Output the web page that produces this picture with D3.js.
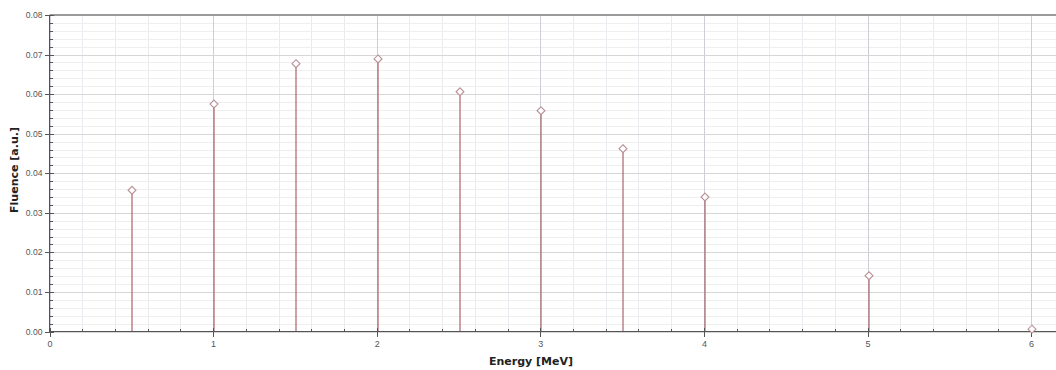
<!DOCTYPE html>
<html>
<head>
<meta charset="utf-8">
<script src="https://cdn.jsdelivr.net/npm/d3@7"></script>
<style>
  html, body { margin: 0; padding: 0; background: #fff; }
  svg { display: block; }
</style>
</head>
<body>
<svg id="chart" width="1056" height="370"></svg>
<script>
// Photon fluence spectrum: one stem per energy line
const energies = [0.5, 1.0, 1.5, 2.0, 2.5, 3.0, 3.5, 4.0, 5.0, 6.0];
const fluence  = [0.0357, 0.0575, 0.0677, 0.0689, 0.0606, 0.0558, 0.0462, 0.0340, 0.0141, 0.0006];
const xTickValues = [0, 1, 2, 3, 4, 5, 6];
const yTickValues = [0, 0.01, 0.02, 0.03, 0.04, 0.05, 0.06, 0.07, 0.08];

const svg = d3.select("#chart");
const plotLeft = 49.5, plotTop = 15, plotBottom = 331.5, plotRight = 1056;

const x = d3.scaleLinear().domain([0, 6.152]).range([plotLeft, plotRight]);
const y = d3.scaleLinear().domain([0, 0.08]).range([plotBottom, plotTop]);

const xMinor = d3.range(0, 6.15, 0.2).map(v => +v.toFixed(2));
const yMinor = d3.range(0, 0.0801, 0.002).map(v => +v.toFixed(4));
const px = v => Math.round(v) + 0.5;

const grid = svg.append("g").attr("shape-rendering", "crispEdges");
// minor grid
grid.selectAll("line.xm").data(xMinor).join("line")
  .attr("x1", d => px(x(d))).attr("x2", d => px(x(d)))
  .attr("y1", plotTop).attr("y2", plotBottom)
  .attr("stroke", "#ebe9ef").attr("stroke-width", 1);
grid.selectAll("line.ym").data(yMinor).join("line")
  .attr("x1", plotLeft).attr("x2", plotRight)
  .attr("y1", d => px(y(d))).attr("y2", d => px(y(d)))
  .attr("stroke", "#eeeeee").attr("stroke-width", 1);
// major grid
grid.selectAll("line.xM").data(xTickValues).join("line")
  .attr("x1", d => px(x(d))).attr("x2", d => px(x(d)))
  .attr("y1", plotTop).attr("y2", plotBottom)
  .attr("stroke", "#cdcdd6").attr("stroke-width", 1);
grid.selectAll("line.yM").data(yTickValues).join("line")
  .attr("x1", plotLeft).attr("x2", plotRight)
  .attr("y1", d => px(y(d))).attr("y2", d => px(y(d)))
  .attr("stroke", "#d6d6d6").attr("stroke-width", 1);

// top frame line
svg.append("line")
  .attr("x1", plotLeft).attr("x2", plotRight).attr("y1", plotTop).attr("y2", plotTop)
  .attr("stroke", "#9a9a9a").attr("stroke-width", 2);

// stems (slightly soft so the red tint reads at any pixel column)
const data = energies.map((e, i) => ({ e, v: fluence[i] }));
svg.append("g")
  .selectAll("line").data(data).join("line")
  .attr("x1", d => px(x(d.e)) + 0.5).attr("x2", d => px(x(d.e)) + 0.5)
  .attr("y1", y(0)).attr("y2", d => y(d.v))
  .attr("stroke", "#a65e66").attr("stroke-width", 1.15);

// axes
const axisColor = "#555";
const yAxis = svg.append("g").attr("shape-rendering", "crispEdges");
yAxis.append("line").attr("x1", plotLeft).attr("x2", plotLeft).attr("y1", plotTop).attr("y2", plotBottom)
  .attr("stroke", axisColor).attr("stroke-width", 1);
yAxis.selectAll("line.minor").data(yMinor.filter(v => Math.abs(v * 100 - Math.round(v * 100)) > 1e-6)).join("line")
  .attr("class", "minor")
  .attr("x1", plotLeft).attr("x2", plotLeft + 3)
  .attr("y1", d => px(y(d))).attr("y2", d => px(y(d)))
  .attr("stroke", axisColor);
yAxis.selectAll("line.major").data(yTickValues).join("line")
  .attr("class", "major")
  .attr("x1", plotLeft - 5).attr("x2", plotLeft + 4)
  .attr("y1", d => px(y(d))).attr("y2", d => px(y(d)))
  .attr("stroke", axisColor);
yAxis.selectAll("text").data(yTickValues).join("text")
  .attr("x", plotLeft - 7).attr("y", d => y(d) + 3)
  .attr("text-anchor", "end")
  .attr("font-family", "Liberation Sans, Arial, sans-serif").attr("font-size", 8.6)
  .attr("fill", "#555")
  .text(d3.format(".2f"));

const xAxis = svg.append("g").attr("shape-rendering", "crispEdges");
xAxis.append("line").attr("x1", plotLeft).attr("x2", plotRight).attr("y1", plotBottom).attr("y2", plotBottom)
  .attr("stroke", axisColor).attr("stroke-width", 1);
xAxis.selectAll("line.minor").data(xMinor.filter(v => Math.abs(v - Math.round(v)) > 1e-6)).join("line")
  .attr("class", "minor")
  .attr("x1", d => px(x(d))).attr("x2", d => px(x(d)))
  .attr("y1", plotBottom - 3).attr("y2", plotBottom)
  .attr("stroke", axisColor);
xAxis.selectAll("line.major").data(xTickValues).join("line")
  .attr("class", "major")
  .attr("x1", d => px(x(d))).attr("x2", d => px(x(d)))
  .attr("y1", plotBottom - 4).attr("y2", plotBottom + 5)
  .attr("stroke", axisColor);
xAxis.selectAll("text").data(xTickValues).join("text")
  .attr("x", d => x(d) + 0.5).attr("y", plotBottom + 15)
  .attr("text-anchor", "middle")
  .attr("font-family", "Liberation Sans, Arial, sans-serif").attr("font-size", 9)
  .attr("fill", "#555")
  .text(d => d);

// diamond markers
const diamond = d3.symbol().type(d3.symbolDiamond2).size(40);
svg.append("g").selectAll("path").data(data).join("path")
  .attr("d", diamond)
  .attr("transform", d => `translate(${px(x(d.e)) + 0.5},${y(d.v)})`)
  .attr("fill", "#fff").attr("stroke", "#b89096").attr("stroke-width", 1.1);

// axis titles
svg.append("text")
  .attr("x", 531).attr("y", 365)
  .attr("text-anchor", "middle")
  .attr("font-family", "DejaVu Sans, Verdana, sans-serif").attr("font-weight", "bold")
  .attr("font-size", 11).attr("fill", "#222")
  .text("Energy [MeV]");
svg.append("text")
  .attr("transform", "translate(18,170) rotate(-90)")
  .attr("text-anchor", "middle")
  .attr("font-family", "DejaVu Sans, Verdana, sans-serif").attr("font-weight", "bold")
  .attr("font-size", 11).attr("fill", "#222")
  .text("Fluence [a.u.]");
</script>
</body>
</html>
